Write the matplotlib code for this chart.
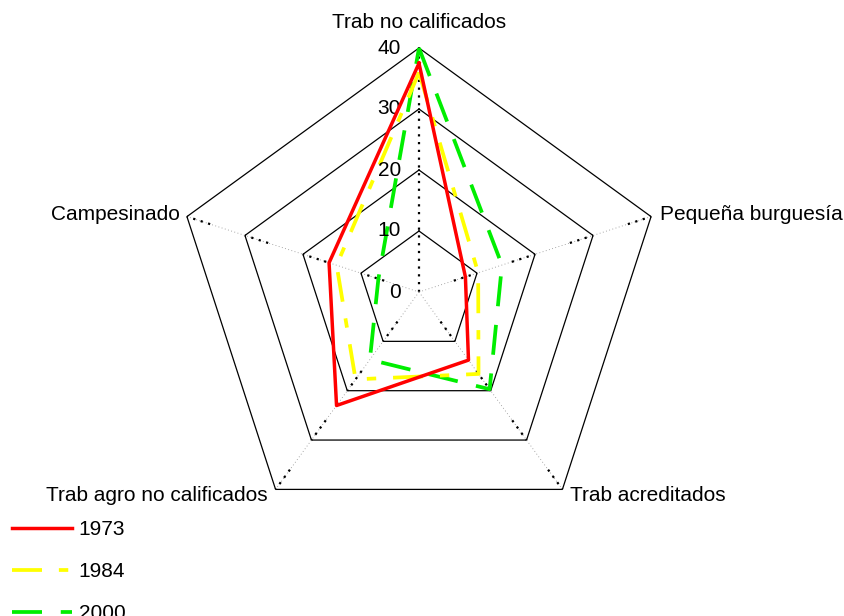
import numpy as np
import matplotlib
matplotlib.use('Agg')
import matplotlib.pyplot as plt

plt.rcParams['font.family'] = ['Liberation Sans', 'DejaVu Sans']

categorias = ['Trab no calificados', 'Pequeña burguesía', 'Trab acreditados',
              'Trab agro no calificados', 'Campesinado']
v1973 = [37.5, 8.0, 13.8, 23.0, 15.5]
v1984 = [36.0, 10.2, 16.6, 17.7, 14.2]
v2000 = [40.0, 14.3, 19.7, 13.7, 7.0]
ticks = [0, 10, 20, 30, 40]

# px per unit and centre of the radar in the 844x616 image
esc = 6.1
cx, cy = 419, 292

angulos = np.deg2rad(90 - 72 * np.arange(len(categorias)))

def xy(vals):
	vals = np.asarray(vals, dtype=float)
	x = vals * np.cos(angulos)
	y = vals * np.sin(angulos)
	return np.append(x, x[0]), np.append(y, y[0])

fig = plt.figure(figsize=(8.44, 6.16), dpi=100)
ax = fig.add_axes([0, 0, 1, 1])
ax.set_xlim(-cx / esc, (844 - cx) / esc)
ax.set_ylim(-(616 - cy) / esc, cy / esc)
ax.axis('off')

# rings
for t in ticks[1:]:
	x, y = xy([t] * len(categorias))
	ax.plot(x, y, color='black', lw=0.9, zorder=1)

# spokes
for k, a in enumerate(angulos):
	ca, sa = np.cos(a), np.sin(a)
	if k == 0:
		ax.plot([0, 40 * ca], [0, 40 * sa], color='black', lw=1.6, ls=(0, (1, 2.5)), zorder=1)
		continue
	ax.plot([0, 40 * ca], [0, 40 * sa], color='0.55', lw=0.6, ls=(0, (1, 3)), zorder=1)
	for t in ticks[1:]:
		ax.plot([(t - 4) * ca, t * ca], [(t - 4) * sa, t * sa], color='black', lw=1.6,
				ls=(0, (1, 2.5)), zorder=1)

# series
x, y = xy(v1973)
ax.plot(x, y, color='#ff0000', lw=2.5, label='1973', zorder=4)
x, y = xy(v1984)
ax.plot(x, y, color='#ffff00', lw=2.7, ls=(0, (8, 4.5, 2.5, 4.5)), label='1984', zorder=3)
x, y = xy(v2000)
ax.plot(x, y, color='#00ee00', lw=2.7, ls=(0, (8, 5)), label='2000', zorder=2)

# category labels
offs = [((0, 26), 'center'), ((9, 2), 'left'), ((8, -6), 'left'),
		((-8, -6), 'right'), ((-7, 2), 'right')]
for k, nombre in enumerate(categorias):
	(dx, dy), ha = offs[k]
	ax.annotate(nombre, (40 * np.cos(angulos[k]), 40 * np.sin(angulos[k])),
				xytext=(dx, dy), textcoords='offset pixels', ha=ha, va='center', fontsize=15)

# value labels
for t in ticks:
	ax.annotate(str(t), (0, t), xytext=(-18, 0), textcoords='offset pixels',
				ha='right', va='center', fontsize=15)

leg = ax.legend(loc='upper left', bbox_to_anchor=(12 / 844, 1 - 520 / 616),
				bbox_transform=fig.transFigure, frameon=False, fontsize=15,
				borderpad=0, borderaxespad=0, handlelength=2.9, handletextpad=0.3,
				labelspacing=1.1)

fig.savefig('out.png', dpi=100)
